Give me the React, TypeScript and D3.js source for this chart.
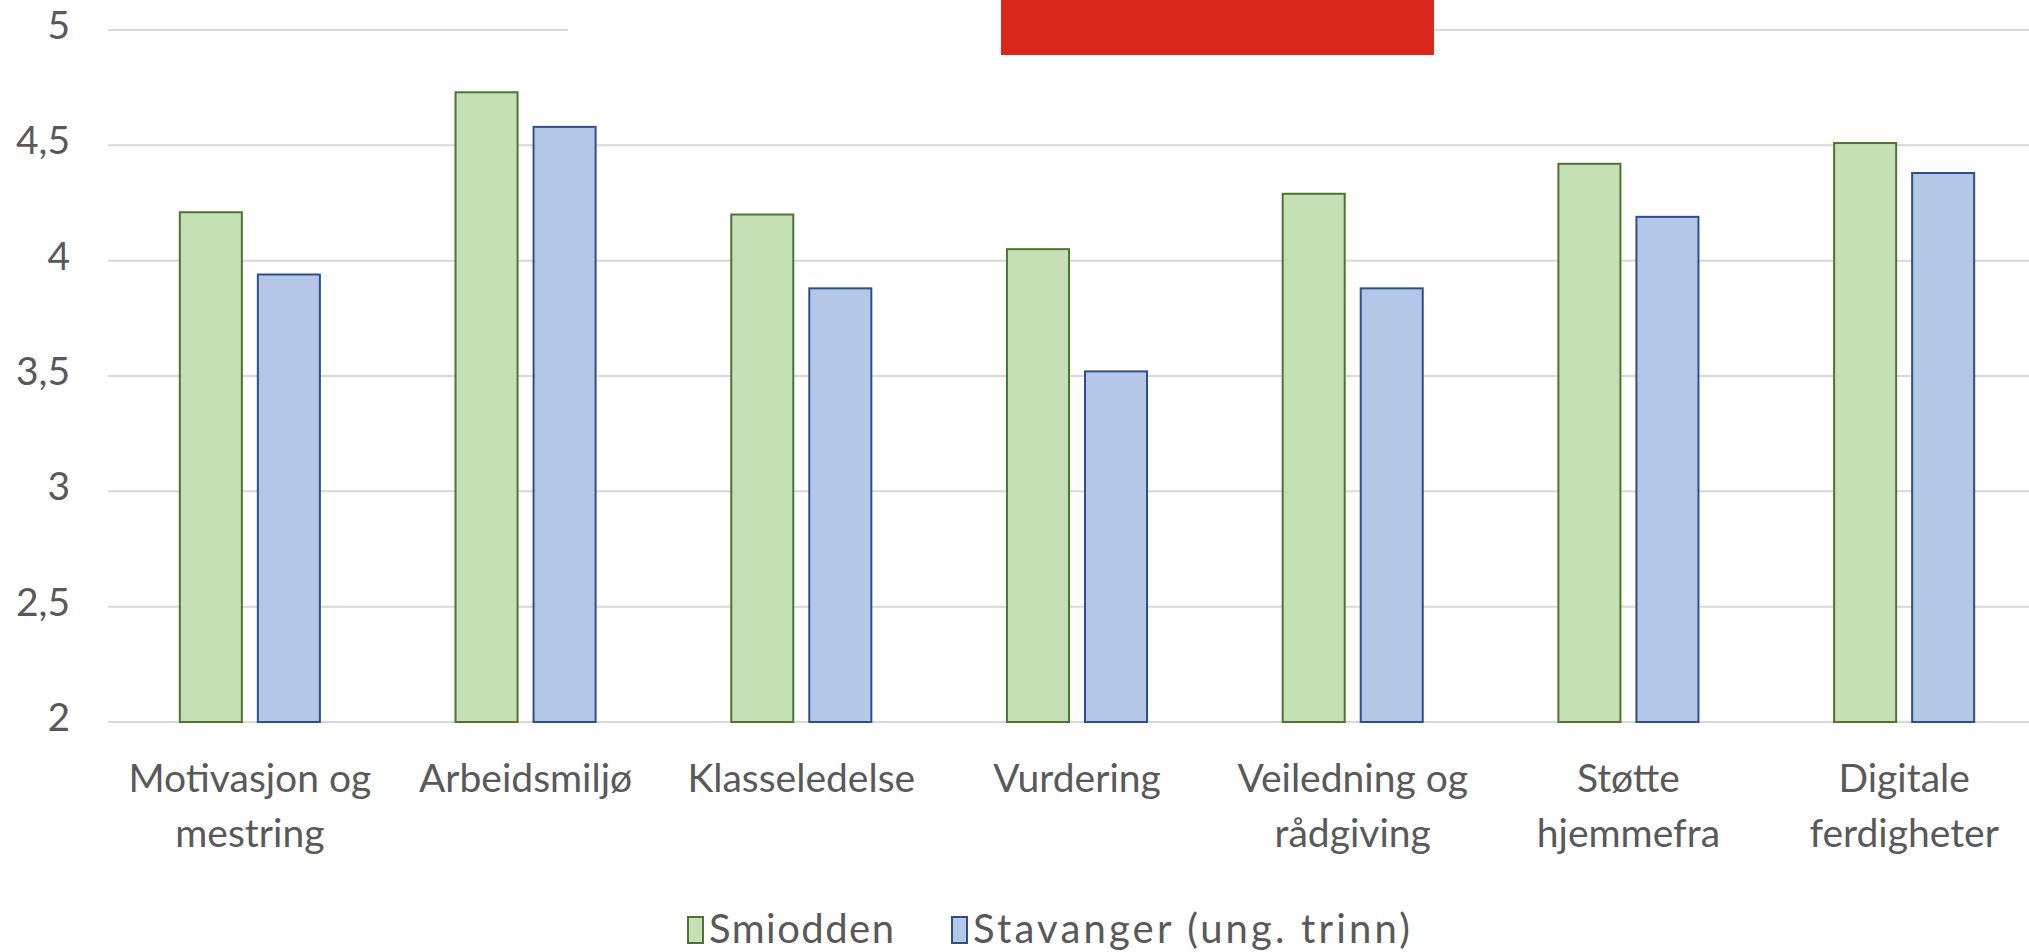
import React, { useEffect, useRef } from "react";
import * as d3 from "d3";

const width = 2029;
const height = 952;

const categories = [
    "Motivasjon og mestring",
    "Arbeidsmiljø",
    "Klasseledelse",
    "Vurdering",
    "Veiledning og rådgiving",
    "Støtte hjemmefra",
    "Digitale ferdigheter",
];

// how the category labels wrap under the axis
const categoryLines = [
    ["Motivasjon og", "mestring"],
    ["Arbeidsmiljø"],
    ["Klasseledelse"],
    ["Vurdering"],
    ["Veiledning og", "rådgiving"],
    ["Støtte", "hjemmefra"],
    ["Digitale", "ferdigheter"],
];

const series = ["Smiodden", "Stavanger (ung. trinn)"];
const smiodden = [4.21, 4.73, 4.2, 4.05, 4.29, 4.42, 4.51];
const stavanger = [3.94, 4.58, 3.88, 3.52, 3.88, 4.19, 4.38];

const yTicks = [2, 2.5, 3, 3.5, 4, 4.5, 5];

const fills = ["#c5e0b4", "#b4c7e7"];
const strokes = ["#4f7332", "#2f4f8a"];

const font = "Lato, 'Open Sans', sans-serif";
const textColor = "#595959";

export default function App() {
    const ref = useRef<SVGSVGElement>(null);

    useEffect(() => {
        const svg = d3.select(ref.current);
        svg.selectAll("*").remove();

        const values = [smiodden, stavanger];

        const x0 = d3.scaleBand<string>()
            .domain(categories)
            .range([112, 2042])
            .paddingInner(0.492)
            .paddingOuter(0.246);

        const x1 = d3.scaleBand<string>()
            .domain(series)
            .range([0, x0.bandwidth()])
            .paddingInner(0.205);

        const y = d3.scaleLinear().domain([2, 5]).range([722, 30]);

        const fmt = (d: number) => String(d).replace(".", ",");

        // gridlines
        svg.append("g")
            .selectAll("line")
            .data(yTicks)
            .join("line")
            .attr("x1", 108)
            .attr("x2", width)
            .attr("y1", d => y(d))
            .attr("y2", d => y(d))
            .attr("stroke", "#d9d9d9")
            .attr("stroke-width", 2);

        // y labels
        svg.append("g")
            .attr("font-family", font)
            .attr("font-size", 39)
            .attr("fill", textColor)
            .attr("text-anchor", "end")
            .selectAll("text")
            .data(yTicks)
            .join("text")
            .attr("x", 70)
            .attr("y", d => y(d) + 9)
            .text(fmt);

        // bars
        const group = svg.append("g")
            .selectAll("g")
            .data(categories)
            .join("g")
            .attr("transform", d => `translate(${x0(d)},0)`);

        group.selectAll("rect")
            .data((_, i) => series.map((s, j) => ({ s, j, v: values[j][i] })))
            .join("rect")
            .attr("x", d => x1(d.s)!)
            .attr("width", x1.bandwidth())
            .attr("y", d => y(d.v))
            .attr("height", d => y(2) - y(d.v))
            .attr("fill", d => fills[d.j])
            .attr("stroke", d => strokes[d.j])
            .attr("stroke-width", 2);

        // category labels
        const labels = svg.append("g")
            .attr("font-family", font)
            .attr("font-size", 39)
            .attr("fill", textColor)
            .attr("text-anchor", "middle")
            .selectAll("text")
            .data(categories)
            .join("text")
            .attr("x", d => x0(d)! + x0.bandwidth() / 2);

        labels.selectAll("tspan")
            .data((_, i) => categoryLines[i])
            .join("tspan")
            .attr("x", function () {
                return (this as SVGTSpanElement).parentElement!.getAttribute("x");
            })
            .attr("y", (_, k) => 792 + k * 55)
            .text(d => d);

        // legend
        const legendX = [687, 951];
        const legendTextWidth = [185, 437];
        const legend = svg.append("g")
            .selectAll("g")
            .data(series)
            .join("g")
            .attr("transform", (_, i) => `translate(${legendX[i]},0)`);

        legend.append("rect")
            .attr("x", 1)
            .attr("y", 917)
            .attr("width", 15)
            .attr("height", 26)
            .attr("fill", (_, i) => fills[i])
            .attr("stroke", (_, i) => strokes[i])
            .attr("stroke-width", 2);

        legend.append("text")
            .attr("x", 22)
            .attr("y", 943)
            .attr("font-family", font)
            .attr("font-size", 40)
            .attr("fill", textColor)
            .attr("textLength", (_, i) => legendTextWidth[i])
            .attr("lengthAdjust", "spacing")
            .text(d => d);

        // title area covering the top gridline, and the red box
        svg.append("rect")
            .attr("x", 568)
            .attr("y", 0)
            .attr("width", 433)
            .attr("height", 46)
            .attr("fill", "#ffffff");

        svg.append("rect")
            .attr("x", 1001)
            .attr("y", 0)
            .attr("width", 433)
            .attr("height", 55)
            .attr("fill", "#da291c");
    }, []);

    return (
        <svg
            ref={ref}
            width={width}
            height={height}
            style={{ position: "absolute", left: 0, top: 0, display: "block", background: "#fff" }}
        />
    );
}
